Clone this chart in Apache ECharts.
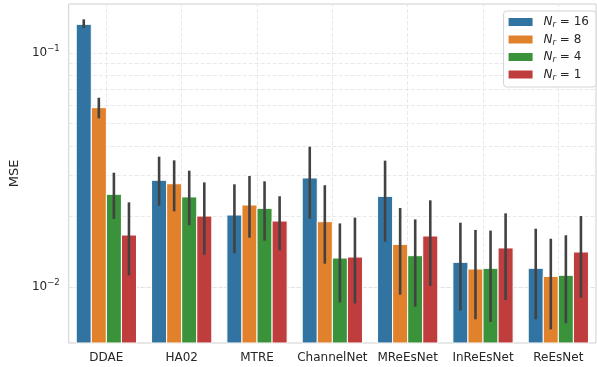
<!DOCTYPE html>
<html><head><meta charset="utf-8">
<script src="https://cdn.jsdelivr.net/npm/echarts@6/dist/echarts.min.js"></script>
<style>html,body{margin:0;padding:0;background:#fff}#c{width:597px;height:367px}</style>
</head><body><div id="c"></div>
<script>
const categories = ['DDAE','HA02','MTRE','ChannelNet','MReEsNet','InReEsNet','ReEsNet'];
const hueNames = ['Nr=16','Nr=8','Nr=4','Nr=1'];
const hueLabels = ['16','8','4','1'];
const mean16 = [0.1326, 0.02858, 0.02031, 0.02924, 0.0244, 0.01275, 0.01202];
const lo16   = [0.128, 0.02225, 0.01393, 0.0196, 0.01563, 0.00793, 0.00728];
const hi16   = [0.1393, 0.03606, 0.02748, 0.03977, 0.03467, 0.01883, 0.01775];
const mean8  = [0.0584, 0.02763, 0.02241, 0.01902, 0.01521, 0.01194, 0.0111];
const lo8    = [0.0526, 0.02106, 0.01625, 0.01258, 0.00927, 0.00728, 0.00659];
const hi8    = [0.0644, 0.03478, 0.02981, 0.02723, 0.02176, 0.01754, 0.01608];
const mean4  = [0.0249, 0.02427, 0.02169, 0.0133, 0.01361, 0.01202, 0.01122];
const lo4    = [0.01954, 0.01837, 0.01578, 0.0086, 0.00824, 0.00709, 0.007];
const hi4    = [0.0308, 0.03141, 0.0283, 0.0187, 0.01945, 0.01742, 0.01664];
const mean1  = [0.01668, 0.0201, 0.01914, 0.01343, 0.01652, 0.01469, 0.01411];
const lo1    = [0.01122, 0.01374, 0.01435, 0.0085, 0.0101, 0.0088, 0.009];
const hi1    = [0.023, 0.028, 0.02443, 0.0198, 0.02347, 0.02065, 0.0201];
const gridValues = [0.006,0.007,0.008,0.009,0.01,0.02,0.03,0.04,0.05,0.06,0.07,0.08,0.09,0.1];
const Y_MIN = 0.005764, Y_MAX = 0.162;

const colors = ['#3274a1','#e1812c','#3a923a','#c03d3e'];
const means = [mean16, mean8, mean4, mean1];
const los = [lo16, lo8, lo4, lo1];
const his = [hi16, hi8, hi4, hi1];
const FONT = 'DejaVu Sans';

function makeSeries(k) {
  return {
    type: 'custom',
    name: hueNames[k],
    itemStyle: { color: colors[k] },
    z: 3,
    encode: { x: 0, y: [1, 2, 3] },
    data: categories.map((c, i) => [i, means[k][i], los[k][i], his[k][i]]),
    renderItem: function (params, api) {
      const i = api.value(0);
      const top = api.coord([i, api.value(1)]);
      const base = api.coord([i, Y_MIN]);
      const band = api.size([1, 0])[0];
      const bw = band * 0.8 / 4;
      const cx = top[0] + (k - 1.5) * bw;
      const lo = api.coord([i, api.value(2)]);
      const hi = api.coord([i, api.value(3)]);
      return {
        type: 'group',
        children: [
          { type: 'rect', shape: { x: cx - bw / 2, y: top[1], width: bw, height: base[1] - top[1] },
            style: { fill: colors[k], stroke: '#ffffff', lineWidth: 1 } },
          { type: 'line', shape: { x1: cx, y1: hi[1], x2: cx, y2: lo[1] },
            style: { stroke: '#424242', lineWidth: 2.6 } }
        ]
      };
    }
  };
}

const gridStyle = { color: '#e3e3e3', type: [4, 2], width: 0.8 };
const series = [
  {
    type: 'line', name: '_grid', data: [], z: 1, silent: true,
    markLine: {
      silent: true, z: 1, symbol: ['none', 'none'], label: { show: false },
      lineStyle: gridStyle,
      data: gridValues.map(v => ({ yAxis: v })).concat(categories.map(c => ({ xAxis: c })))
    }
  }
].concat([0, 1, 2, 3].map(makeSeries));

const chart = echarts.init(document.getElementById('c'), null, { renderer: 'canvas' });
chart.setOption({
  animation: false,
  color: colors,
  textStyle: { fontFamily: FONT },
  grid: { left: 67, right: 1, top: 4, bottom: 24, show: true, borderColor: '#cfcfcf', borderWidth: 1, backgroundColor: 'transparent' },
  legend: {
    data: hueNames.map(n => ({ name: n, icon: 'rect' })),
    orient: 'vertical', right: 1, top: 11, z: 10,
    itemWidth: 24, itemHeight: 8, itemGap: 4,
    backgroundColor: '#fff', borderColor: '#d4d4d4', borderWidth: 1, borderRadius: 3,
    padding: [5, 7, 5, 5],
    formatter: function (name) {
      const idx = hueNames.indexOf(name);
      return '{n|N}{s|r}{t| = ' + hueLabels[idx] + '}';
    },
    textStyle: {
      fontFamily: FONT, color: '#262626', fontSize: 12,
      rich: {
        n: { fontFamily: FONT, fontStyle: 'italic', fontSize: 12, lineHeight: 15, color: '#262626', padding: [0, 0, 0, 6] },
        s: { fontFamily: FONT, fontStyle: 'italic', fontSize: 8.5, lineHeight: 9, verticalAlign: 'bottom', color: '#262626' },
        t: { fontFamily: FONT, fontSize: 12, lineHeight: 15, color: '#262626' }
      }
    }
  },
  xAxis: {
    type: 'category', data: categories,
    axisLine: { show: false }, axisTick: { show: false },
    splitLine: { show: false },
    axisLabel: { fontFamily: FONT, fontSize: 12, color: '#262626', margin: 9, interval: 0 }
  },
  yAxis: {
    type: 'log', logBase: 10, min: Y_MIN, max: Y_MAX,
    name: 'MSE', nameLocation: 'middle', nameGap: 47, nameRotate: 90,
    nameTextStyle: { fontFamily: FONT, fontSize: 13, color: '#262626' },
    axisLine: { show: false }, axisTick: { show: false },
    splitLine: { show: false },
    axisLabel: {
      fontFamily: FONT, color: '#262626', margin: 9,
      formatter: function (v) {
        const e = Math.log10(v);
        if (Math.abs(e - Math.round(e)) > 1e-6) return '';
        return '{b|10}{p|\u2212' + Math.abs(Math.round(e)) + '}';
      },
      rich: {
        b: { fontFamily: FONT, fontSize: 12, lineHeight: 18, color: '#262626' },
        p: { fontFamily: FONT, fontSize: 8.5, lineHeight: 10, verticalAlign: 'top', color: '#262626' }
      }
    }
  },
  series: series
});
</script>
</body></html>
